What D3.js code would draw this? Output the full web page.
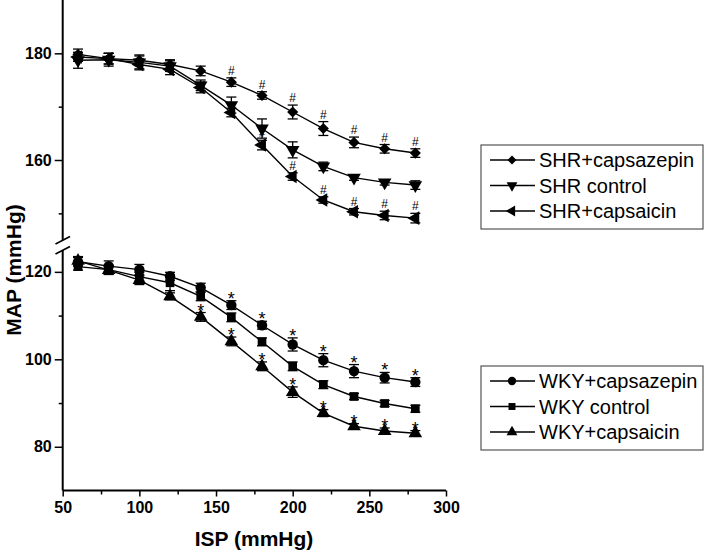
<!DOCTYPE html>
<html><head><meta charset="utf-8">
<script src="https://cdn.jsdelivr.net/npm/d3@7"></script>
<style>body{margin:0;background:#fff}svg{display:block}text{font-family:Arial,"Liberation Sans",sans-serif}</style>
</head><body><svg id="c" width="709" height="552"></svg>
<script>
const isp = [60,80,100,120,140,160,180,200,220,240,260,280];
// upper panel (SHR)
const shrCapsazepin = [179.8,179.0,178.7,177.9,176.7,174.6,172.1,169.0,165.9,163.3,162.1,161.3];
const shrCapsazepinErr = [1.0,1.0,1.0,0.9,0.9,0.8,0.7,1.3,1.3,1.0,0.8,0.8];
const shrControl = [178.7,178.8,178.3,177.6,174.0,170.3,165.9,161.9,158.8,156.7,155.8,155.3];
const shrControlErr = [1.5,1.2,1.2,1.0,1.0,1.5,1.8,1.5,0.8,0.5,0.5,0.8];
const shrCapsaicin = [179.3,179.0,177.9,177.0,173.6,168.9,162.8,156.9,152.5,150.3,149.6,149.1];
const shrCapsaicinErr = [0.8,1.0,1.0,1.0,1.0,0.8,0.9,0.7,0.6,0.6,0.8,0.9];
// lower panel (WKY)
const wkyCapsazepin = [122.3,121.3,120.5,119.0,116.4,112.4,107.8,103.4,99.8,97.3,95.8,94.8];
const wkyCapsazepinErr = [1.0,1.2,1.2,0.9,1.0,1.0,0.9,1.5,1.5,1.5,1.2,1.0];
const wkyControl = [121.2,120.5,118.9,117.5,114.4,109.6,104.0,98.4,94.2,91.5,89.9,88.7];
const wkyControlErr = [0.8,1.0,1.0,1.8,1.0,1.0,0.9,1.0,0.9,0.7,0.7,0.8];
const wkyCapsaicin = [122.5,120.4,118.1,114.4,109.7,104.1,98.4,92.5,87.7,84.7,83.6,83.1];
const wkyCapsaicinErr = [1.0,1.0,1.0,0.8,1.0,1.0,1.0,1.2,0.8,0.6,0.7,0.6];
// significance marks (x values)
const sigShrCapsazepin = [160,180,200,220,240,260,280];
const sigShrCapsaicin = [180,200,220,240,260,280];
const sigWkyCapsazepin = [160,180,200,220,240,260,280];
const sigWkyCapsaicin = [140,160,180,200,220,240,260,280];
const xTicks = [50,100,150,200,250,300];
const xMinor = [75,125,175,225,275];
const yUpperTicks = [160,180];
const yUpperMinor = [150,170];
const yLowerTicks = [80,100,120];
const yLowerMinor = [90,110];
const legendUpper = ["SHR+capsazepin","SHR control","SHR+capsaicin"];
const legendLower = ["WKY+capsazepin","WKY control","WKY+capsaicin"];

const svg = d3.select("#c");
const x = d3.scaleLinear().domain([50,300]).range([62.7,446]);
const yU = d3.scaleLinear().domain([145,190]).range([240,0]);
const yL = d3.scaleLinear().domain([70,125]).range([490.5,250]);

function yAxis(scale, major, minor){
  const g = svg.append("g").attr("transform","translate(62.7,0)");
  g.call(d3.axisLeft(scale).tickValues(major).tickSize(8).tickPadding(3).tickFormat(d3.format("d")));
  g.append("g").call(d3.axisLeft(scale).tickValues(minor).tickSize(4).tickFormat(""))
   .select(".domain").remove();
  g.selectAll(".domain").attr("stroke-width",2);
  g.selectAll("line").attr("stroke-width",1.5);
  g.selectAll("text").attr("font-size",16).attr("font-weight","bold").attr("fill","#000");
  return g;
}
const gu = yAxis(yU, yUpperTicks, yUpperMinor);
gu.select(".domain").attr("d","M0,0V240");
const gl = yAxis(yL, yLowerTicks, yLowerMinor);
gl.select(".domain").attr("d","M0,250V490.5");
// break marks
[240,250].forEach(v=>{
  svg.append("line").attr("x1",55.5).attr("y1",v+4).attr("x2",70).attr("y2",v-3.5)
    .attr("stroke","#000").attr("stroke-width",1.6);
});

const gx = svg.append("g").attr("transform","translate(0,490.5)");
gx.call(d3.axisBottom(x).tickValues(xTicks).tickSize(6).tickPadding(5).tickFormat(d3.format("d")));
gx.append("g").call(d3.axisBottom(x).tickValues(xMinor).tickSize(4).tickFormat("")).select(".domain").remove();
gx.selectAll(".domain").attr("stroke-width",2).attr("d","M62.7,0H446");
gx.selectAll("line").attr("stroke-width",1.5);
gx.selectAll("text").attr("font-size",16).attr("font-weight","bold").attr("fill","#000");

svg.append("text").attr("x",254).attr("y",546).attr("text-anchor","middle")
  .attr("font-size",21).attr("font-weight","bold").text("ISP (mmHg)");
svg.append("text").attr("transform","translate(21,270) rotate(-90)").attr("text-anchor","middle")
  .attr("font-size",21).attr("font-weight","bold").text("MAP (mmHg)");

const sym = {
  diamond: d3.symbol().type(d3.symbolSquare).size(62),
  circle: d3.symbol().type(d3.symbolCircle).size(85),
  square: d3.symbol().type(d3.symbolSquare).size(75),
  tri: d3.symbol().type(d3.symbolTriangle).size(80)
};
function marker(g, kind, cx, cy, sc){
  sc = sc || 1;
  let d;
  if(kind==="diamond") d = sym.diamond();
  else if(kind==="circle") d = sym.circle();
  else if(kind==="square") d = sym.square();
  else d = sym.tri();
  let rot = kind==="down"?180:kind==="left"?-90:kind==="diamond"?45:0;
  return g.append("path").attr("d",d)
    .attr("transform",`translate(${cx},${cy}) rotate(${rot}) scale(${sc})`).attr("fill","#000");
}
const series = [
  {v:shrCapsazepin,e:shrCapsazepinErr,y:yU,m:"diamond",sig:sigShrCapsazepin,s:"#"},
  {v:shrControl,e:shrControlErr,y:yU,m:"down",sig:[],s:"#"},
  {v:shrCapsaicin,e:shrCapsaicinErr,y:yU,m:"left",sig:sigShrCapsaicin,s:"#"},
  {v:wkyCapsazepin,e:wkyCapsazepinErr,y:yL,m:"circle",sig:sigWkyCapsazepin,s:"*"},
  {v:wkyControl,e:wkyControlErr,y:yL,m:"square",sig:[],s:"*"},
  {v:wkyCapsaicin,e:wkyCapsaicinErr,y:yL,m:"up",sig:sigWkyCapsaicin,s:"*"}
];
series.forEach(S=>{
  const g = svg.append("g");
  const line = d3.line().x((d,i)=>x(isp[i])).y(d=>S.y(d));
  g.append("path").attr("d",line(S.v)).attr("fill","none").attr("stroke","#000").attr("stroke-width",1.4);
  S.v.forEach((v,i)=>{
    const cx = x(isp[i]), t = S.y(v+S.e[i]), b = S.y(v-S.e[i]);
    g.append("line").attr("x1",cx).attr("x2",cx).attr("y1",t).attr("y2",b).attr("stroke","#000").attr("stroke-width",1.3);
    [t,b].forEach(yy=>g.append("line").attr("x1",cx-5).attr("x2",cx+5).attr("y1",yy).attr("y2",yy).attr("stroke","#000").attr("stroke-width",1.3));
    marker(g,S.m,cx,S.y(v));
    if(S.sig.includes(isp[i])){
      if(S.s==="#") g.append("text").attr("x",cx).attr("y",t-3).attr("text-anchor","middle").attr("font-size",12).attr("fill","#000").text("#");
      else g.append("text").attr("x",cx).attr("y",t+4).attr("text-anchor","middle").attr("font-size",18).attr("fill","#000").text("*");
    }
  });
});

function legend(names, kinds, top){
  const g = svg.append("g");
  g.append("rect").attr("x",481).attr("y",top).attr("width",222).attr("height",84)
    .attr("fill","none").attr("stroke","#555").attr("stroke-width",1.2);
  names.forEach((n,i)=>{
    const cy = top+15+i*25.5;
    g.append("line").attr("x1",490).attr("x2",535).attr("y1",cy).attr("y2",cy).attr("stroke","#000").attr("stroke-width",1.4);
    marker(g,kinds[i],512,cy,0.8);
    g.append("text").attr("x",539).attr("y",cy+7).attr("font-size",20).attr("fill","#000").text(n);
  });
}
legend(legendUpper,["diamond","down","left"],145);
legend(legendLower,["circle","square","up"],366);
</script></body></html>
